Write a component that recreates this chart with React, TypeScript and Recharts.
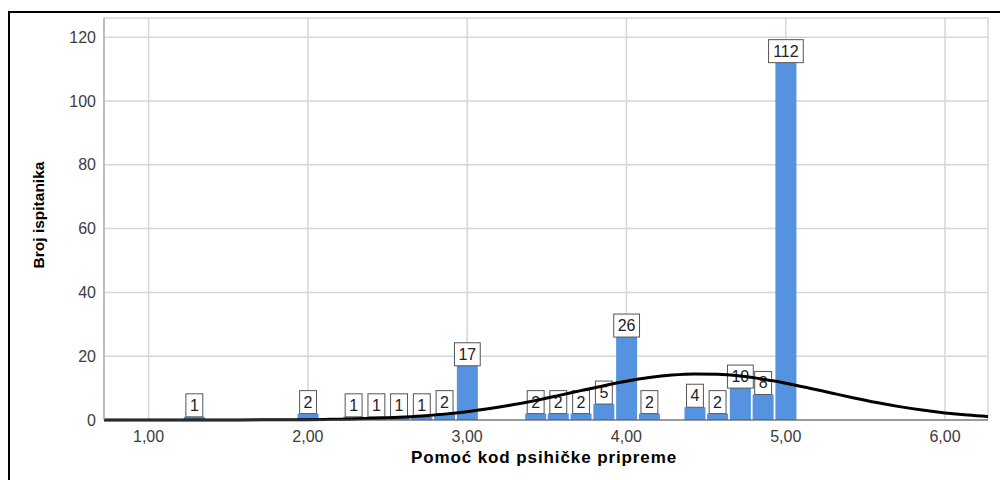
import React from "react";
import {
  Bar,
  CartesianGrid,
  ComposedChart,
  Line,
  XAxis,
  YAxis,
} from "recharts";

// histogram bins (mean score of 7 items) and how many respondents fell in each
const binCenters = [
  1.286, 2.0, 2.286, 2.429, 2.571, 2.714, 2.857, 3.0, 3.429, 3.571, 3.714,
  3.857, 4.0, 4.143, 4.429, 4.571, 4.714, 4.857, 5.0,
];
const binCounts = [1, 2, 1, 1, 1, 1, 2, 17, 2, 2, 2, 5, 26, 2, 4, 2, 10, 8, 112];

// normal curve
const curveX = [
  0.714, 0.857, 1.0, 1.143, 1.286, 1.429, 1.571, 1.714, 1.857, 2.0, 2.143,
  2.286, 2.429, 2.571, 2.714, 2.857, 3.0, 3.143, 3.286, 3.429, 3.571, 3.714,
  3.857, 4.0, 4.143, 4.286, 4.429, 4.571, 4.714, 4.857, 5.0, 5.143, 5.286,
  5.429, 5.571, 5.714, 5.857, 6.0, 6.143, 6.286,
];
const curveY = [
  0, 0, 0, 0, 0.01, 0.01, 0.02, 0.04, 0.06, 0.11, 0.2, 0.33, 0.53, 0.83, 1.25,
  1.84, 2.61, 3.58, 4.77, 6.13, 7.63, 9.2, 10.75, 12.15, 13.29, 14.08, 14.43,
  14.33, 13.77, 12.8, 11.53, 10.05, 8.48, 6.92, 5.48, 4.19, 3.11, 2.23, 1.55,
  1.04,
];

const xTicks = [1, 2, 3, 4, 5, 6];
const yTicks = [0, 20, 40, 60, 80, 100, 120];

const countByKey = new Map(binCenters.map((x, i) => [x.toFixed(3), binCounts[i]]));
const data = curveX.map((x, i) => ({
  x,
  curve: curveY[i],
  count: countByKey.get(x.toFixed(3)),
}));

const fmtX = (v: number) => v.toFixed(2).replace(".", ",");

// bar plus its count box, drawn together so the curve sits on top of both
function BarWithBox(props: any) {
  const { x, y, width, height, payload, fill } = props;
  const value = payload?.count;
  if (value == null || !Number.isFinite(x) || !Number.isFinite(y)) return null;
  const s = String(value);
  const w = s.length * 8.9 + 8;
  const cx = x + width / 2;
  return (
    <g>
      <rect x={x} y={y} width={width} height={height} fill={fill} />
      <rect x={cx - w / 2} y={y - 23} width={w} height={23} fill="#fff" stroke="#555" strokeWidth={1} />
      <text x={cx} y={y - 6} textAnchor="middle" fontSize={16} fill="#222">
        {s}
      </text>
    </g>
  );
}

function YTitle(props: any) {
  const vb = props.viewBox || { x: 0, y: 5, width: 94, height: 402 };
  const cx = vb.x + 28;
  const cy = vb.y + vb.height / 2 - 4;
  return (
    <text
      x={cx}
      y={cy}
      transform={`rotate(-90 ${cx} ${cy})`}
      textAnchor="middle"
      dominantBaseline="central"
      fontSize={15.5}
      fontWeight="bold"
      fill="#000"
    >
      Broj ispitanika
    </text>
  );
}

function XTitle(props: any) {
  const vb = props.viewBox || { x: 94, y: 407, width: 884, height: 60 };
  return (
    <text
      x={vb.x + vb.width / 2 - 2}
      y={vb.y + 43}
      textAnchor="middle"
      fontSize={17}
      fontWeight="bold"
      fill="#000"
      style={{ letterSpacing: "0.9px" }}
    >
      Pomoć kod psihičke pripreme
    </text>
  );
}

export default function App() {
  return (
    <div
      style={{
        position: "fixed",
        left: 8,
        top: 11,
        width: 992,
        height: 469,
        borderTop: "2px solid #000",
        borderLeft: "2px solid #000",
        background: "#fff",
        overflow: "hidden",
        fontFamily: "'Liberation Sans', Arial, sans-serif",
      }}
    >
      <style>{`.recharts-cartesian-axis-tick text { font-size: 16px; letter-spacing: 1.5px; }`}</style>
      <ComposedChart
        width={990}
        height={467}
        data={data}
        margin={{ top: 5, right: 12, bottom: 0, left: 0 }}
      >
        <CartesianGrid stroke="#d6d6d6" strokeWidth={1.5} />
        <XAxis
          dataKey="x"
          type="number"
          domain={[0.72, 6.27]}
          allowDataOverflow
          ticks={xTicks}
          tickFormatter={fmtX}
          tickLine={false}
          tickMargin={5}
          axisLine={{ stroke: "#555" }}
          tick={{ fontSize: 16, fill: "#3c3c3c" }}
          height={60}
          label={{ content: XTitle }}
        />
        <YAxis
          type="number"
          domain={[0, 126]}
          ticks={yTicks}
          tickLine={false}
          axisLine={{ stroke: "#999" }}
          tick={{ fontSize: 16, fill: "#3c3c3c" }}
          width={94}
          label={{ content: YTitle }}
        />
        <Bar
          dataKey="count"
          fill="#5593e0"
          barSize={21}
          shape={BarWithBox}
          isAnimationActive={false}
        />
        <Line
          dataKey="curve"
          type="monotone"
          stroke="#000"
          strokeWidth={3}
          dot={false}
          activeDot={false}
          isAnimationActive={false}
        />
      </ComposedChart>
    </div>
  );
}
